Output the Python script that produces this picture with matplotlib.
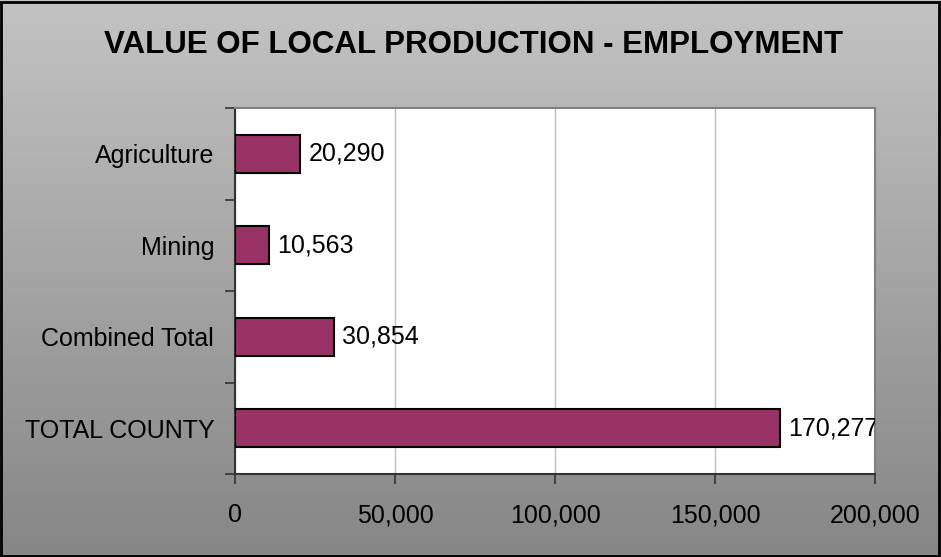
import matplotlib
matplotlib.use("Agg")
import matplotlib.pyplot as plt
import numpy as np
from matplotlib.patches import Rectangle
from matplotlib.ticker import FuncFormatter

categories = ["Agriculture", "Mining", "Combined Total", "TOTAL COUNTY"]
values = [20290, 10563, 30854, 170277]
x_ticks = [0, 50000, 100000, 150000, 200000]

plt.rcParams["font.family"] = ["Liberation Sans", "DejaVu Sans"]

W, H = 941, 557
fig = plt.figure(figsize=(W / 100, H / 100), dpi=100)

# gray gradient backdrop for the whole chart
bg = fig.add_axes([0, 0, 1, 1], zorder=-10)
grad = np.linspace(0, 1, 256).reshape(-1, 1)
bg.imshow(grad, aspect="auto", cmap=matplotlib.colors.LinearSegmentedColormap.from_list(
    "g", ["#c3c3c3", "#868686"]), extent=[0, 1, 0, 1], origin="upper")
bg.set_axis_off()
fig.patches.append(Rectangle((0.001, 0.001), 0.997, 0.996, transform=fig.transFigure,
                             fill=False, edgecolor="black", linewidth=2))

ax = fig.add_axes([235 / W, 1 - 474 / H, 640 / W, 366 / H])
ax.set_facecolor("white")

ypos = np.arange(len(categories))
ax.barh(ypos, values, height=0.42, color="#993366", edgecolor="black", linewidth=1.5, zorder=3)
ax.set_ylim(len(categories) - 0.5, -0.5)
ax.set_xlim(0, 200000)

for y, v in zip(ypos, values):
    ax.annotate(f"{v:,}", (v, y), xytext=(6, 0), textcoords="offset points",
                va="center", ha="left", fontsize=18, clip_on=True, zorder=4)

ax.set_yticks(ypos)
ax.set_yticklabels(categories, fontsize=18)
ax.set_yticks(np.arange(len(categories) + 1) - 0.5, minor=True)
ax.tick_params(axis="y", which="major", length=0, pad=15)
ax.tick_params(axis="y", which="minor", length=7, width=1.2, color="#333333")

ax.set_xticks(x_ticks)
ax.xaxis.set_major_formatter(FuncFormatter(lambda v, p: f"{int(v):,}"))
ax.tick_params(axis="x", length=7, width=1.2, color="#333333", labelsize=18, pad=14)
ax.grid(axis="x", color="#c0c0c0", linewidth=1, zorder=0)

ax.spines["left"].set_color("#333333")
ax.spines["bottom"].set_color("#333333")
ax.spines["left"].set_linewidth(1.5)
ax.spines["bottom"].set_linewidth(1.5)
ax.spines["top"].set_color("#808080")
ax.spines["right"].set_color("#808080")
ax.spines["top"].set_linewidth(1.5)
ax.spines["right"].set_linewidth(1.5)

fig.text(474 / W, 1 - 45 / H, "VALUE OF LOCAL PRODUCTION - EMPLOYMENT",
         ha="center", va="center", fontsize=22.5, fontweight="bold")

plt.savefig("out.png", dpi=100)
